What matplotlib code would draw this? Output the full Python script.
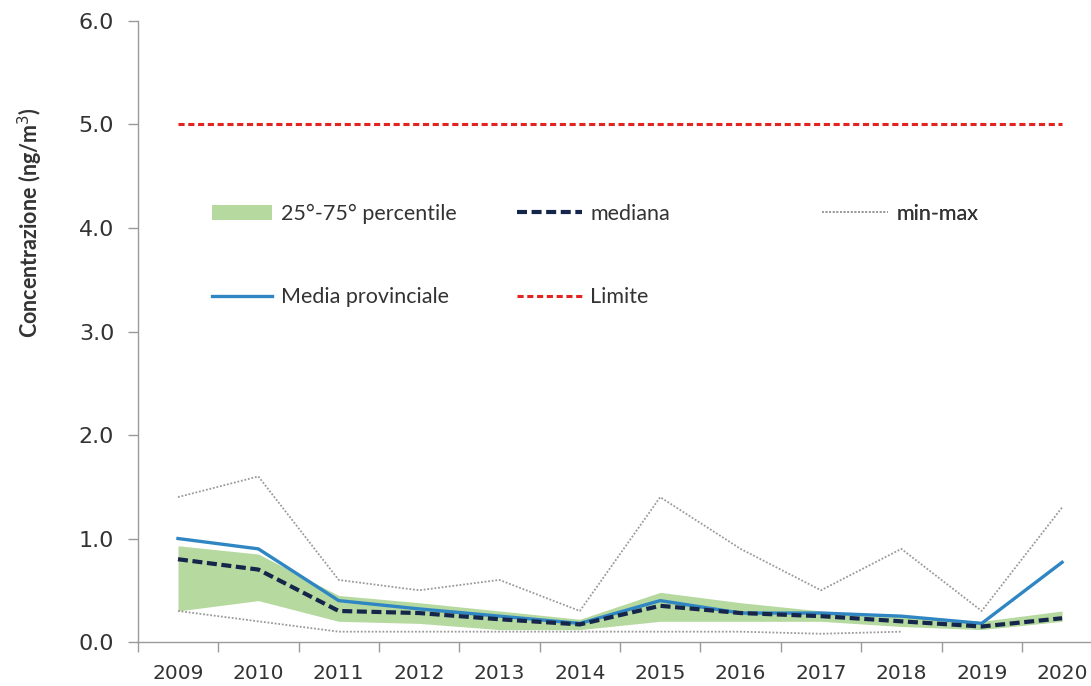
import matplotlib
matplotlib.use("Agg")
import matplotlib.pyplot as plt
from matplotlib.lines import Line2D
from matplotlib.patches import Patch
import numpy as np

years = ["2009", "2010", "2011", "2012", "2013", "2014",
         "2015", "2016", "2017", "2018", "2019", "2020"]
media_provinciale = [1.00, 0.90, 0.40, 0.32, 0.25, 0.18, 0.40, 0.28, 0.28, 0.25, 0.18, 0.77]
mediana = [0.80, 0.70, 0.30, 0.28, 0.22, 0.17, 0.35, 0.28, 0.25, 0.20, 0.15, 0.23]
p25 = [0.30, 0.40, 0.20, 0.18, 0.12, 0.12, 0.20, 0.20, 0.20, 0.15, 0.12, 0.20]
p75 = [0.93, 0.85, 0.45, 0.38, 0.30, 0.22, 0.48, 0.38, 0.30, 0.25, 0.20, 0.30]
val_max = [1.40, 1.60, 0.60, 0.50, 0.60, 0.30, 1.40, 0.90, 0.50, 0.90, 0.30, 1.30]
val_min = [0.30, 0.20, 0.10, 0.10, 0.10, 0.10, 0.10, 0.10, 0.08, 0.10]
limite = [5.0] * 12
yticks = [0.0, 1.0, 2.0, 3.0, 4.0, 5.0, 6.0]

x = np.arange(len(years))
x_min = np.arange(len(val_min))

fig = plt.figure(figsize=(10.91, 6.86), dpi=100)
ax = fig.add_axes([0.1263, 0.0641, 1.0 - 0.1263, 0.9694 - 0.0641])

green = "#b6d9a0"
blue = "#2f86c3"
navy = "#16254a"
grey = "#9a9a9a"
red = "#e3231f"
text_col = "#333333"

med_style = (0, (2.4, 1.1))
lim_style = (0, (2.0, 1.2))
dot_style = (0, (1, 1))

ax.fill_between(x, p25, p75, color=green, lw=0, zorder=1)
ax.plot(x, val_max, color=grey, lw=1.3, ls=dot_style, zorder=2)
ax.plot(x_min, val_min, color=grey, lw=1.3, ls=dot_style, zorder=2)
ax.plot(x, media_provinciale, color=blue, lw=2.4, zorder=3, solid_joinstyle="round")
ax.plot(x, mediana, color=navy, lw=3.0, ls=med_style, zorder=4)
ax.plot(x, limite, color=red, lw=2.2, ls=lim_style, zorder=3)

ax.set_xlim(-0.5, 11.36)
ax.set_ylim(0, 6.0)
ax.set_yticks(yticks)
ax.set_yticklabels([f"{v:.1f}" for v in yticks])
ax.set_xticks(x)
ax.set_xticklabels(years)
ax.set_xticks(np.arange(-0.5, 11.5, 1.0), minor=True)

for side in ("top", "right"):
    ax.spines[side].set_visible(False)
for side in ("left", "bottom"):
    ax.spines[side].set_color(grey)
    ax.spines[side].set_linewidth(1.0)

ax.tick_params(axis="x", which="major", length=0, pad=16, labelsize=14.5, labelcolor=text_col)
ax.tick_params(axis="x", which="minor", length=7, color=grey, width=1.0)
ax.tick_params(axis="y", length=7, color=grey, width=1.0, pad=10, labelsize=16, labelcolor=text_col)

ax.set_ylabel("Concentrazione (ng/m$^3$)", fontsize=15.5, fontweight="bold",
              family="Lato", color=text_col)
ax.yaxis.set_label_coords(-0.097, 0.676)

leg_font = {"family": "Lato", "size": 15.5}

def column_legend(handles, labels, x0, hlen):
    leg = ax.legend(handles, labels, loc="upper left", bbox_to_anchor=(x0, 0.706),
                    frameon=False, prop=leg_font, handlelength=hlen,
                    handletextpad=0.4, labelspacing=2.95, borderpad=0, borderaxespad=0)
    for t in leg.get_texts():
        t.set_color(text_col)
    ax.add_artist(leg)
    return leg

column_legend([Patch(facecolor=green, edgecolor="none"),
               Line2D([], [], color=blue, lw=2.4)],
              ["25°-75° percentile", "Media provinciale"], 0.078, 2.8)
column_legend([Line2D([], [], color=navy, lw=3.0, ls=med_style),
               Line2D([], [], color=red, lw=2.2, ls=lim_style)],
              ["mediana", "Limite"], 0.398, 3.0)
column_legend([Line2D([], [], color=grey, lw=1.3, ls=dot_style)],
              ["min-max"], 0.718, 3.05)

fig.savefig("out.png", dpi=100)
